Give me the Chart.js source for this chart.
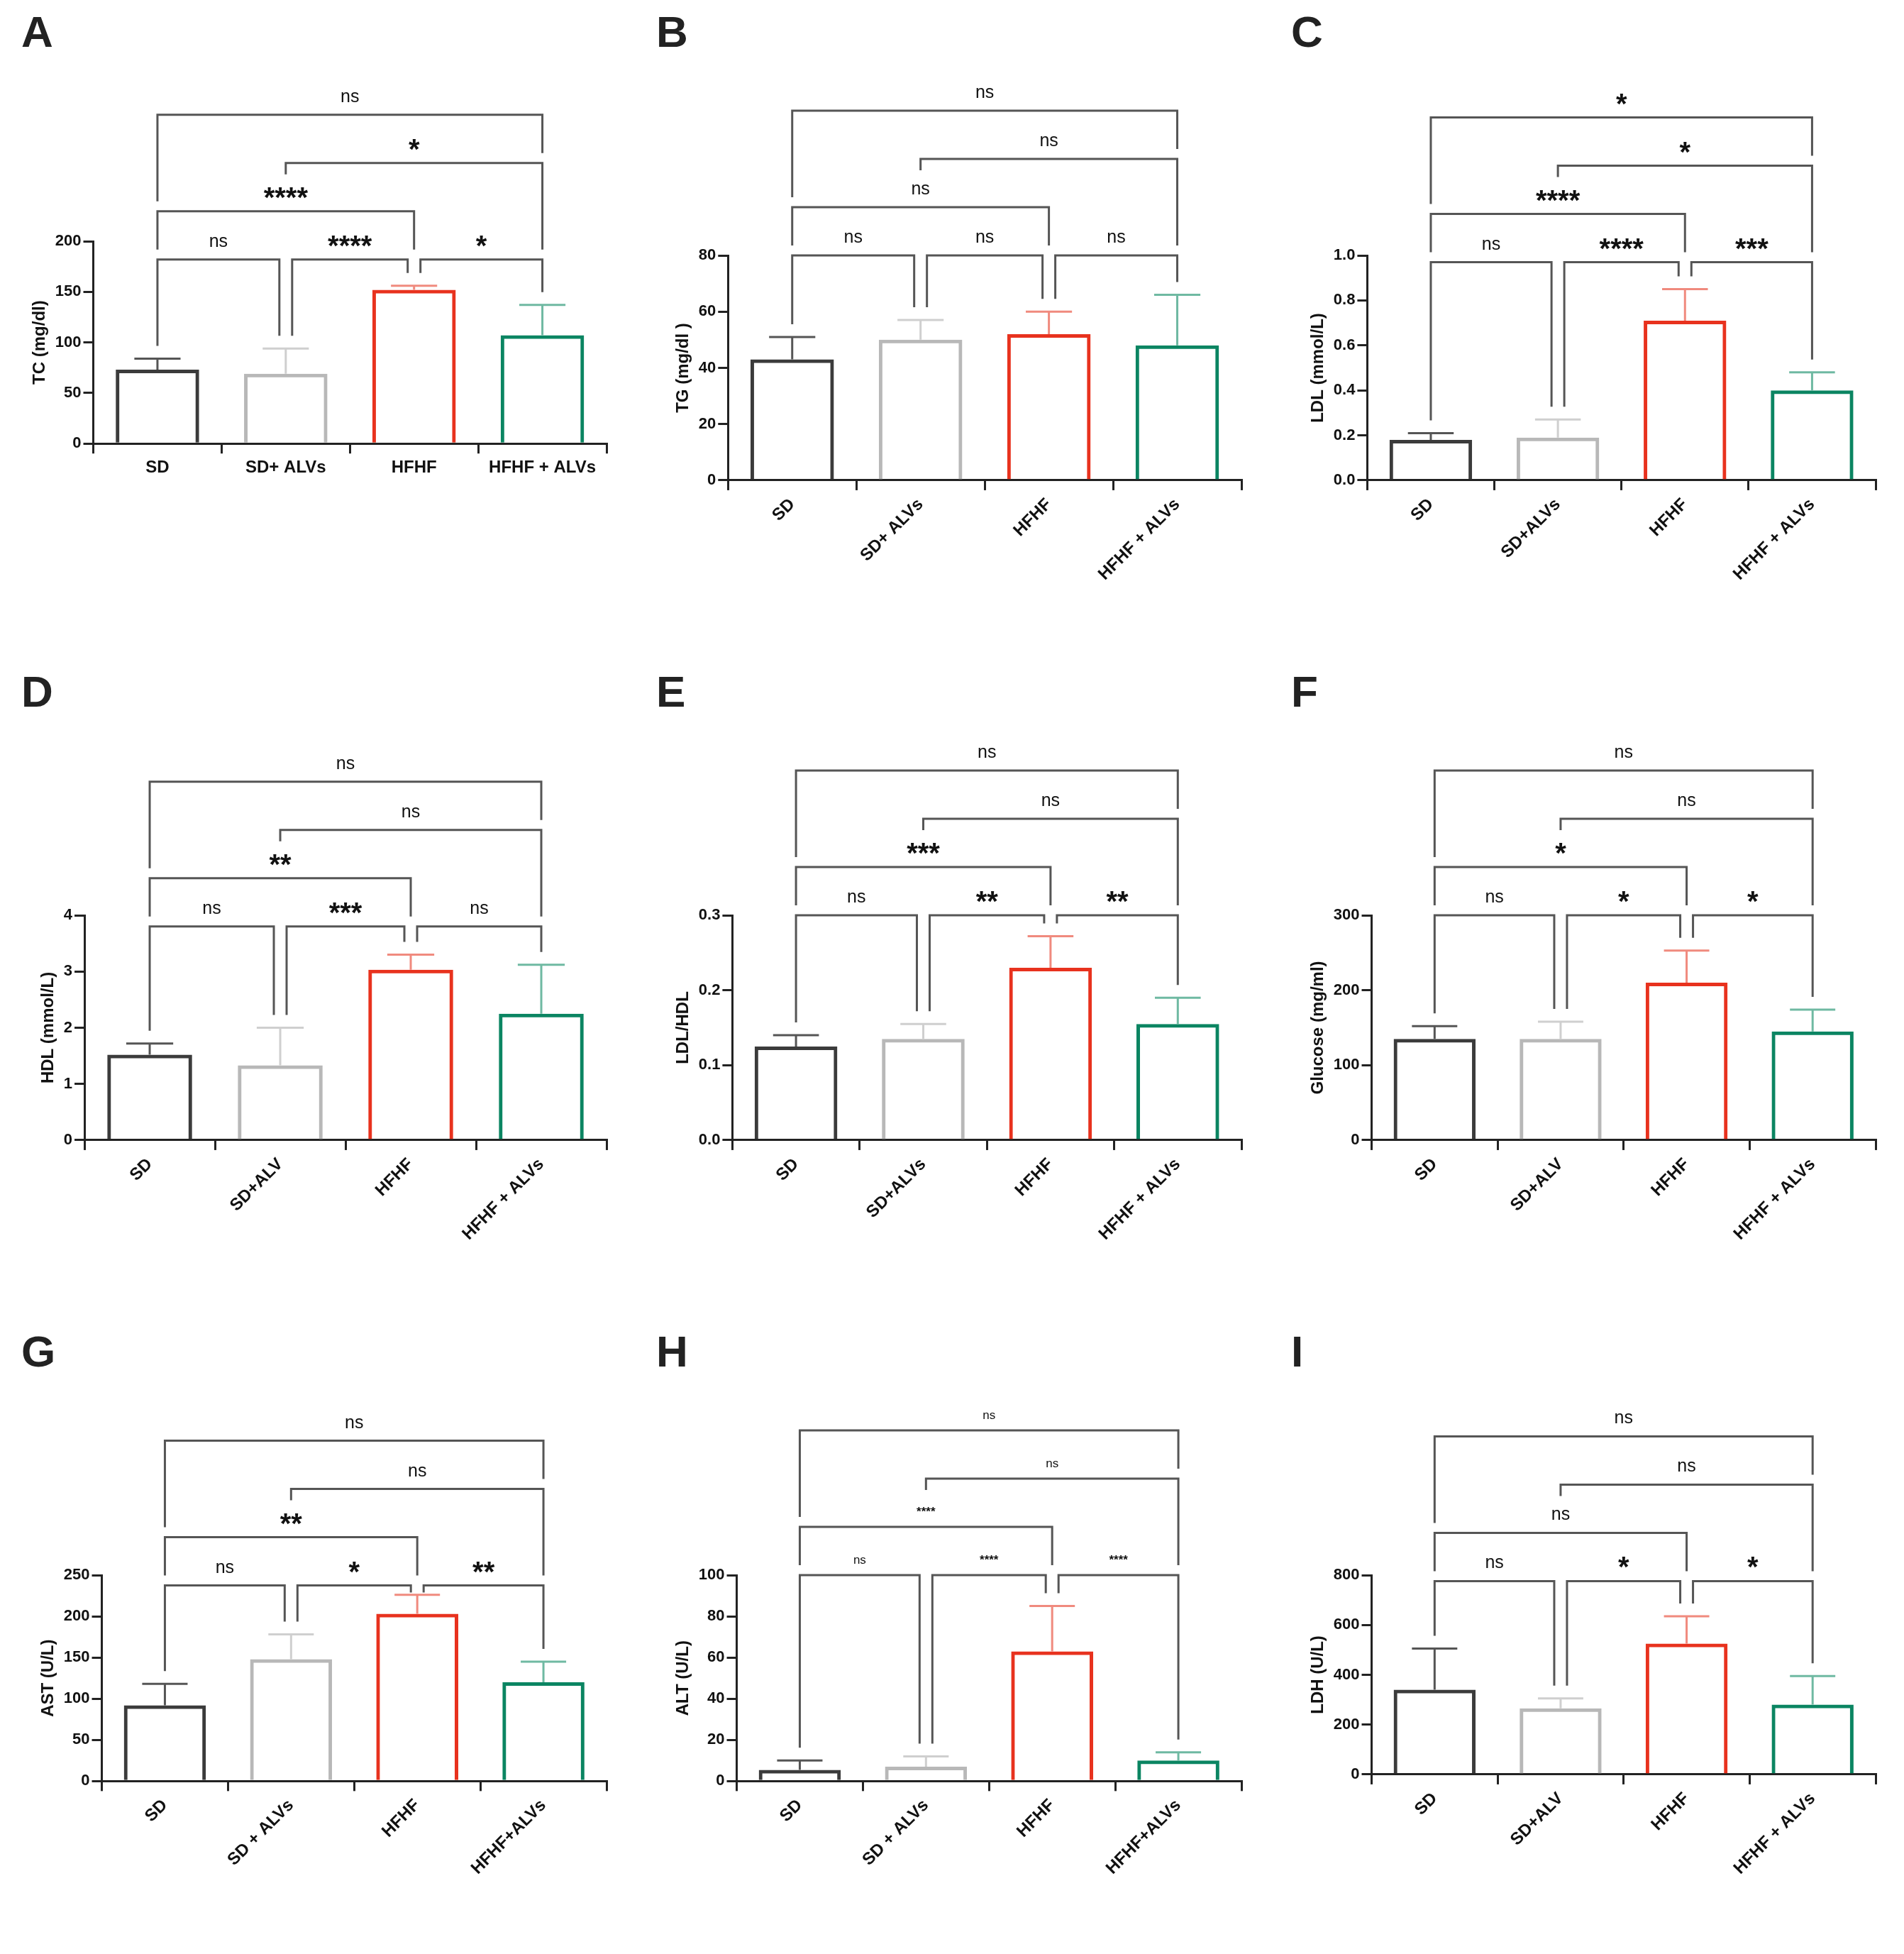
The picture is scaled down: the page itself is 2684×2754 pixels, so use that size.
<!DOCTYPE html>
<html>
<head>
<meta charset="utf-8">
<script src="https://cdn.jsdelivr.net/npm/chart.js@4"></script>
<style>
  body { margin: 0; background: #fff; }
  #grid { display: grid; grid-template-columns: 895px 895px 894px; grid-template-rows: 930px 930px 894px; }
  canvas { display: block; }
</style>
</head>
<body>
<div id="grid"></div>
<script>
// group colours
const colors = ['#3b3b3b', '#b8b8b8', '#e8321e', '#0b8562'];
const errColors = ['#555555', '#cfcfcf', '#f08a7e', '#6fb9a2'];

// panel data: letter, y title, ticks, labels, means, error tops, significance
const letters = ['A', 'B', 'C', 'D', 'E', 'F', 'G', 'H', 'I'];
const yTitles = ['TC (mg/dl)', 'TG (mg/dl )', 'LDL (mmol/L)', 'HDL (mmol/L)', 'LDL/HDL', 'Glucose (mg/ml)', 'AST (U/L)', 'ALT (U/L)', 'LDH (U/L)'];
const yMax = [200, 80, 1.0, 4, 0.3, 300, 250, 100, 800];
const yStep = [50, 20, 0.2, 1, 0.1, 100, 50, 20, 200];
const tickDecimals = [0, 0, 1, 0, 1, 0, 0, 0, 0];
const catLabels = [
  ['SD', 'SD+ ALVs', 'HFHF', 'HFHF + ALVs'],
  ['SD', 'SD+ ALVs', 'HFHF', 'HFHF + ALVs'],
  ['SD', 'SD+ALVs', 'HFHF', 'HFHF + ALVs'],
  ['SD', 'SD+ALV', 'HFHF', 'HFHF + ALVs'],
  ['SD', 'SD+ALVs', 'HFHF', 'HFHF + ALVs'],
  ['SD', 'SD+ALV', 'HFHF', 'HFHF + ALVs'],
  ['SD', 'SD + ALVs', 'HFHF', 'HFHF+ALVs'],
  ['SD', 'SD + ALVs', 'HFHF', 'HFHF+ALVs'],
  ['SD', 'SD+ALV', 'HFHF', 'HFHF + ALVs']
];
const means = [
  [73, 69, 152, 107],
  [43, 50, 52, 48],
  [0.18, 0.19, 0.71, 0.40],
  [1.52, 1.33, 3.03, 2.25],
  [0.125, 0.135, 0.23, 0.155],
  [135, 135, 210, 145],
  [92, 148, 203, 120],
  [5.5, 7, 63, 10],
  [340, 265, 525, 280]
];
const errTops = [
  [84, 94, 156, 137],
  [51, 57, 60, 66],
  [0.21, 0.27, 0.85, 0.48],
  [1.72, 2.0, 3.3, 3.12],
  [0.14, 0.155, 0.272, 0.19],
  [152, 158, 253, 174],
  [118, 178, 226, 145],
  [10, 12, 85, 14],
  [505, 305, 635, 395]
];
// comparison pairs in drawing order (level 0,0,0,1,2,3)
const pairs = [[0, 1], [1, 2], [2, 3], [0, 2], [1, 3], [0, 3]];
const pairLevels = [0, 0, 0, 1, 2, 3];
const sig = [
  ['ns', '****', '*', '****', '*', 'ns'],
  ['ns', 'ns', 'ns', 'ns', 'ns', 'ns'],
  ['ns', '****', '***', '****', '*', '*'],
  ['ns', '***', 'ns', '**', 'ns', 'ns'],
  ['ns', '**', '**', '***', 'ns', 'ns'],
  ['ns', '*', '*', '*', 'ns', 'ns'],
  ['ns', '*', '**', '**', 'ns', 'ns'],
  ['ns', '****', '****', '****', 'ns', 'ns'],
  ['ns', '*', '*', 'ns', 'ns', 'ns']
];
// lowest bracket level, as fraction of axis max
const baseLevel = [0.91, 1.0, 0.97, 0.95, 1.0, 1.0, 0.95, 1.0, 0.97];
const smallSig = [false, false, false, false, false, false, false, true, false];

const FONT = '"Liberation Sans", Arial, sans-serif';

const annotatePlugin = {
  id: 'annotate',
  afterDatasetsDraw(chart, args, opts) {
    const p = opts.panel;
    const ctx = chart.ctx;
    const x = chart.scales.x, y = chart.scales.y;
    const meta = chart.getDatasetMeta(0);
    const cw = x.getPixelForValue(1) - x.getPixelForValue(0);
    ctx.save();
    // error bars (upward only)
    for (let i = 0; i < 4; i++) {
      const cx = meta.data[i].x;
      const yTop = y.getPixelForValue(errTops[p][i]);
      const yM = y.getPixelForValue(means[p][i]);
      ctx.strokeStyle = errColors[i];
      ctx.lineWidth = 3;
      ctx.beginPath();
      ctx.moveTo(cx, yM); ctx.lineTo(cx, yTop);
      ctx.moveTo(cx - cw * 0.18, yTop); ctx.lineTo(cx + cw * 0.18, yTop);
      ctx.stroke();
    }
    // brackets
    const spacing = 68;
    const base = y.getPixelForValue(yMax[p] * baseLevel[p]);
    const levelY = l => base - l * spacing;
    ctx.strokeStyle = '#555';
    ctx.lineWidth = 3;
    ctx.fillStyle = '#111';
    ctx.textAlign = 'center';
    ctx.textBaseline = 'alphabetic';
    pairs.forEach((pr, k) => {
      const lvl = pairLevels[k];
      const ly = levelY(lvl);
      const ends = pr.map((g, side) => {
        let cx = meta.data[g].x;
        // shift shared ends of adjacent level-0 brackets
        if (lvl === 0) {
          if (side === 0 && g > 0) cx += 9;
          if (side === 1 && g < 3) cx -= 9;
        }
        // leg bottom: nearest lower bracket touching this group, else error bar top
        let bottom = y.getPixelForValue(errTops[p][g]) - 18;
        for (let j = 0; j < pairs.length; j++) {
          const lj = pairLevels[j];
          if (lj < lvl && pairs[j][0] <= g && pairs[j][1] >= g) {
            const interior = pairs[j][0] < g && pairs[j][1] > g;
            bottom = Math.min(bottom, levelY(lj) - (interior ? 52 : 14));
          }
        }
        if (lvl === 0 && bottom < ly) bottom = ly + 10;
        return [cx, bottom];
      });
      ctx.beginPath();
      ctx.moveTo(ends[0][0], ends[0][1]);
      ctx.lineTo(ends[0][0], ly);
      ctx.lineTo(ends[1][0], ly);
      ctx.lineTo(ends[1][0], ends[1][1]);
      ctx.stroke();
      const s = sig[p][k];
      const mid = (ends[0][0] + ends[1][0]) / 2;
      if (smallSig[p]) {
        ctx.font = (s === 'ns' ? '' : 'bold ') + '17px ' + FONT;
        ctx.fillText(s, mid, ly - 16);
      } else if (s === 'ns') {
        ctx.font = '25px ' + FONT;
        ctx.fillText(s, mid, ly - 18);
      } else {
        ctx.font = 'bold 40px ' + FONT;
        ctx.fillText(s, mid, ly - 6);
      }
    });
    // panel letter
    ctx.font = 'bold 62px ' + FONT;
    ctx.fillStyle = '#222';
    ctx.textAlign = 'left';
    ctx.textBaseline = 'top';
    ctx.fillText(letters[p], 30, 18);
    ctx.restore();
  }
};

const grid = document.getElementById('grid');
letters.forEach((letter, p) => {
  const canvas = document.createElement('canvas');
  canvas.width = p % 3 === 2 ? 894 : 895;
  canvas.height = p >= 6 ? 894 : 930;
  grid.appendChild(canvas);
  const rotated = p !== 0;
  new Chart(canvas.getContext('2d'), {
    type: 'bar',
    data: {
      labels: catLabels[p],
      datasets: [{
        data: means[p],
        backgroundColor: 'rgba(255,255,255,0)',
        borderColor: colors,
        borderWidth: 5,
        borderSkipped: 'bottom',
        categoryPercentage: 0.65,
        barPercentage: 1.0
      }]
    },
    options: {
      responsive: false,
      animation: false,
      devicePixelRatio: 1,
      layout: { padding: { top: rotated ? 360 : 340, right: 40, left: rotated ? 50 : 38, bottom: rotated ? 100 : 250 } },
      plugins: { legend: { display: false }, tooltip: { enabled: false }, annotate: { panel: p } },
      scales: {
        x: {
          grid: { display: true, drawOnChartArea: false, tickLength: 14, color: '#222', lineWidth: 3 },
          border: { color: '#222', width: 3 },
          ticks: {
            color: '#111', font: { family: FONT, weight: 'bold', size: 24 },
            maxRotation: rotated ? 45 : 0, minRotation: rotated ? 45 : 0, padding: 6
          }
        },
        y: {
          min: 0, max: yMax[p],
          grid: { display: true, drawOnChartArea: false, tickLength: 14, color: '#222', lineWidth: 3 },
          border: { color: '#222', width: 3 },
          ticks: {
            stepSize: yStep[p], color: '#111', font: { family: FONT, weight: 'bold', size: 22 },
            callback: v => Number(v).toFixed(tickDecimals[p])
          },
          title: { display: true, text: yTitles[p], color: '#111', font: { family: FONT, weight: 'bold', size: 24 } }
        }
      }
    },
    plugins: [annotatePlugin]
  });
});
</script>
</body>
</html>
